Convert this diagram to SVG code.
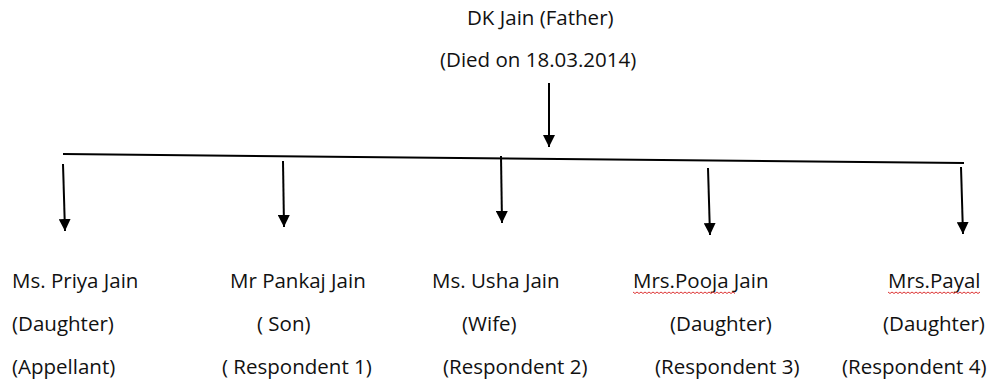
<svg xmlns="http://www.w3.org/2000/svg" width="994" height="384" viewBox="0 0 994 384">
<defs>
<style>
text{font-family:"Open Sans","Liberation Sans",sans-serif;font-size:20.5px;fill:#111}
.c{stroke:#000;stroke-width:2;fill:none}
.sq{stroke:#d33;stroke-width:1;fill:none}
</style>
<marker id="ah" viewBox="0 0 12 12" refX="12" refY="6" markerWidth="12" markerHeight="12" markerUnits="userSpaceOnUse" orient="auto">
<path d="M0,0 L12,6 L0,12 z" fill="#000"/>
</marker>
</defs>
<g id="father">
<text x="467" y="25">DK Jain (Father)</text>
<text x="440" y="67">(Died on 18.03.2014)</text>
</g>
<g id="connectors">
<line class="c" x1="549" y1="83" x2="549" y2="147" marker-end="url(#ah)"/>
<line class="c" x1="63" y1="154" x2="964" y2="163"/>
<line class="c" x1="63" y1="164" x2="65" y2="231" marker-end="url(#ah)"/>
<line class="c" x1="283" y1="161" x2="284" y2="227" marker-end="url(#ah)"/>
<line class="c" x1="501" y1="156" x2="502" y2="223" marker-end="url(#ah)"/>
<line class="c" x1="708" y1="168" x2="710" y2="235" marker-end="url(#ah)"/>
<line class="c" x1="961" y1="167" x2="963" y2="234" marker-end="url(#ah)"/>
</g>
<g id="priya">
<text x="12" y="288">Ms. Priya Jain</text>
<text x="12" y="331">(Daughter)</text>
<text x="12" y="374">(Appellant)</text>
</g>
<g id="pankaj">
<text x="230" y="288">Mr Pankaj Jain</text>
<text x="257" y="331">( Son)</text>
<text x="222" y="374">( Respondent 1)</text>
</g>
<g id="usha">
<text x="432" y="288">Ms. Usha Jain</text>
<text x="462" y="331">(Wife)</text>
<text x="443" y="374">(Respondent 2)</text>
</g>
<g id="pooja">
<text x="633" y="288">Mrs.Pooja Jain</text>
<path class="sq" d="M633,292 l2,1.5 l2,-1.5 l2,1.5 l2,-1.5 l2,1.5 l2,-1.5 l2,1.5 l2,-1.5 l2,1.5 l2,-1.5 l2,1.5 l2,-1.5 l2,1.5 l2,-1.5 l2,1.5 l2,-1.5 l2,1.5 l2,-1.5 l2,1.5 l2,-1.5 l2,1.5 l2,-1.5 l2,1.5 l2,-1.5 l2,1.5 l2,-1.5 l2,1.5 l2,-1.5 l2,1.5 l2,-1.5 l2,1.5 l2,-1.5 l2,1.5 l2,-1.5 l2,1.5 l2,-1.5 l2,1.5 l2,-1.5 l2,1.5 l2,-1.5 l2,1.5 l2,-1.5 l2,1.5 l2,-1.5 l2,1.5 l2,-1.5 l2,1.5 l2,-1.5 l2,1.5 l2,-1.5 l2,1.5"/>
<text x="670" y="331">(Daughter)</text>
<text x="655" y="374">(Respondent 3)</text>
</g>
<g id="payal">
<text x="888" y="288">Mrs.Payal</text>
<path class="sq" d="M888,292 l2,1.5 l2,-1.5 l2,1.5 l2,-1.5 l2,1.5 l2,-1.5 l2,1.5 l2,-1.5 l2,1.5 l2,-1.5 l2,1.5 l2,-1.5 l2,1.5 l2,-1.5 l2,1.5 l2,-1.5 l2,1.5 l2,-1.5 l2,1.5 l2,-1.5 l2,1.5 l2,-1.5 l2,1.5 l2,-1.5 l2,1.5 l2,-1.5 l2,1.5 l2,-1.5 l2,1.5 l2,-1.5 l2,1.5 l2,-1.5 l2,1.5 l2,-1.5 l2,1.5 l2,-1.5 l2,1.5 l2,-1.5 l2,1.5 l2,-1.5 l2,1.5 l2,-1.5 l2,1.5 l2,-1.5 l2,1.5 l2,-1.5"/>
<text x="883" y="331">(Daughter)</text>
<text x="842" y="374">(Respondent 4)</text>
</g>
</svg>
